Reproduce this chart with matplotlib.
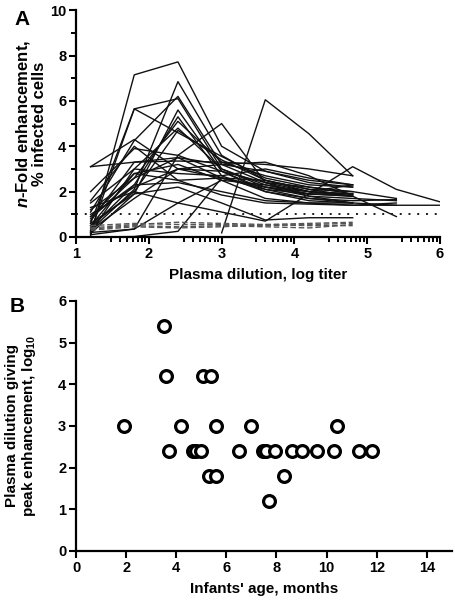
import numpy as np
import matplotlib
matplotlib.use("Agg")
import matplotlib.pyplot as plt

plt.rcParams['font.family'] = ['Liberation Sans', 'DejaVu Sans']
plt.rcParams['font.weight'] = 'bold'
plt.rcParams['mathtext.fontset'] = 'custom'
plt.rcParams['mathtext.rm'] = 'Liberation Sans:bold'
plt.rcParams['mathtext.it'] = 'Liberation Sans:italic:bold'
plt.rcParams['mathtext.bf'] = 'Liberation Sans:bold'

#Panel A: dilution steps (log titer)
dilution = [1.2, 1.8, 2.4, 3.0, 3.6, 4.2, 4.8, 5.4, 6.0]
nan = np.nan

#Solid lines (enhancing infants)
enh_lines = [
    [0.05, 7.15, 7.72, 4.0, 2.9, 2.4, 2.2],
    [0.3, 2.1, 6.85, 3.6, 2.5, 2.1, 1.8],
    [1.1, 4.25, 6.2, 3.2, 2.4, 2.0, 1.9],
    [0.6, 5.65, 6.1, 3.0, 2.2, 1.8, 1.7, 1.6],
    [0.25, 5.65, 4.6, 3.55, 2.6, 2.2, 1.9],
    [0.15, 1.9, 5.6, 2.9, 2.1, 1.7, 1.5],
    [0.4, 2.3, 5.3, 2.7, 2.0, 1.6, 1.5, 1.4],
    [0.8, 2.6, 5.1, 3.3, 2.7, 2.3, 2.2],
    [0.2, 3.0, 4.8, 3.0, 2.3, 1.9, 1.8],
    [0.5, 2.0, 4.7, 3.4, 2.5, 2.1, 2.0, 1.7],
    [3.1, 3.3, 3.35, 3.3, 3.2, 3.0, 2.7],
    [3.1, 4.3, 3.0, 2.6, 2.2, 1.9, 1.8],
    [2.0, 3.9, 3.6, 2.9, 2.4, 2.2, 2.0],
    [1.6, 4.0, 2.5, 1.85, 1.5, 1.45, 1.4, 1.4, 1.4],
    [1.2, 2.6, 3.5, 2.6, 2.1, 1.9, 1.9],
    [1.0, 2.2, 3.0, 3.2, 2.9, 2.5, 2.3],
    [0.9, 2.8, 3.2, 2.5, 1.7, 1.5, 1.5],
    [0.1, 0.35, 3.6, 5.0, 2.4, 1.8, 1.5],
    [0.2, 0.35, 1.5, 1.1, 0.7, 1.9, 3.1, 2.1, 1.55],
    [0.0, 0.02, 0.25, 2.6, 2.5, 2.0, 1.8],
    [nan, nan, nan, 0.18, 6.05, 4.55, 2.7],
    [0.7, 3.3, 3.5, 3.2, 3.3, 2.7, 1.8, 0.9],
    [1.3, 2.0, 1.5, 2.5, 2.3, 2.0, 1.9],
    [0.5, 2.8, 2.5, 2.6, 2.2, 2.0, 2.3],
    [1.5, 3.0, 2.8, 2.7, 3.0, 2.6, 2.3],
    [0.9, 2.3, 2.4, 2.0, 1.6, 1.5, 1.4, 1.5],
    [0.6, 1.9, 2.2, 1.5, 0.75, 0.85, 0.85],
    [0.3, 1.7, 3.0, 2.9, 2.0, 1.7, 1.6, 1.65],
]

#Dashed lines (non-enhancing)
nonenh_lines = [
    [0.4, 0.55, 0.65, 0.6, 0.55, 0.6, 0.65],
    [0.5, 0.6, 0.55, 0.55, 0.5, 0.55, 0.6],
    [0.35, 0.5, 0.45, 0.5, 0.45, 0.4, 0.55],
    [0.3, 0.45, 0.4, 0.45, 0.55, 0.5, 0.5],
]

#Panel B: infants' age vs peak dilution
age = [1.9, 3.5, 3.6, 3.7, 4.2, 4.65, 4.8, 5.0, 5.05, 5.4, 5.3, 5.6, 5.6,
       6.5, 7.0, 7.45, 7.6, 7.7, 7.95, 8.3, 8.6, 9.0, 9.6, 10.3, 10.4,
       11.3, 11.8]
peak = [3.0, 5.4, 4.2, 2.4, 3.0, 2.4, 2.4, 2.4, 4.2, 4.2, 1.8, 1.8, 3.0,
        2.4, 3.0, 2.4, 2.4, 1.2, 2.4, 1.8, 2.4, 2.4, 2.4, 2.4, 3.0,
        2.4, 2.4]

fig = plt.figure(figsize=(4.56, 6.0), dpi=100)
axA = fig.add_axes([0.1667, 0.605, 0.7983, 0.378])
axB = fig.add_axes([0.1667, 0.0817, 0.8243, 0.4167])

for ys in enh_lines:
    axA.plot(dilution[:len(ys)], ys, color='#111111', lw=1.0)
for ys in nonenh_lines:
    axA.plot(dilution[:len(ys)], ys, color='#555555', lw=1.0, ls=(0, (4, 2)))
axA.axhline(1.0, color='#1a1a1a', lw=1.4, ls=(0, (1, 3.5)))

axA.set_xlim(1, 6)
axA.set_ylim(0, 10)
axA.set_xticks([1, 2, 3, 4, 5, 6])
axA.set_xticks([n + np.log10(k) for n in range(1, 6) for k in range(3, 10)], minor=True)
axA.set_yticks([0, 2, 4, 6, 8, 10])
axA.set_yticks([1, 3, 5, 7, 9], minor=True)
axA.set_xlabel('Plasma dilution, log titer', fontsize=11, fontweight='bold', labelpad=5)
axA.set_ylabel('$\\it{n}$-Fold enhancement,\n% infected cells', fontsize=12,
               fontweight='bold', linespacing=1.0)
axA.yaxis.set_label_coords(-0.08, 0.5)

axB.plot(age, peak, 'o', mfc='white', mec='black', ms=8.5, mew=2.3)
axB.set_xlim(0, 15)
axB.set_ylim(0, 6)
axB.set_xticks([0, 2, 4, 6, 8, 10, 12, 14])
axB.set_yticks([0, 1, 2, 3, 4, 5, 6])
axB.set_xlabel("Infants' age, months", fontsize=11, fontweight='bold', labelpad=5)
axB.set_ylabel('Plasma dilution giving\npeak enhancement, log$_{10}$', fontsize=11,
               fontweight='bold', linespacing=1.05)
axB.yaxis.set_label_coords(-0.102, 0.5)

for ax in (axA, axB):
    ax.spines['top'].set_visible(False)
    ax.spines['right'].set_visible(False)
    ax.spines['left'].set_linewidth(1.6)
    ax.spines['bottom'].set_linewidth(1.6)
    ax.tick_params(which='major', length=5, width=1.5, labelsize=10.5, pad=2)
    ax.tick_params(which='minor', length=3.5, width=1.4)
    for lab in ax.get_xticklabels() + ax.get_yticklabels():
        lab.set_fontweight('bold')

fig.text(0.048, 0.968, 'A', fontsize=15, fontweight='bold', ha='center', va='center')
fig.text(0.037, 0.49, 'B', fontsize=15, fontweight='bold', ha='center', va='center')

fig.savefig('out.png', dpi=100)
